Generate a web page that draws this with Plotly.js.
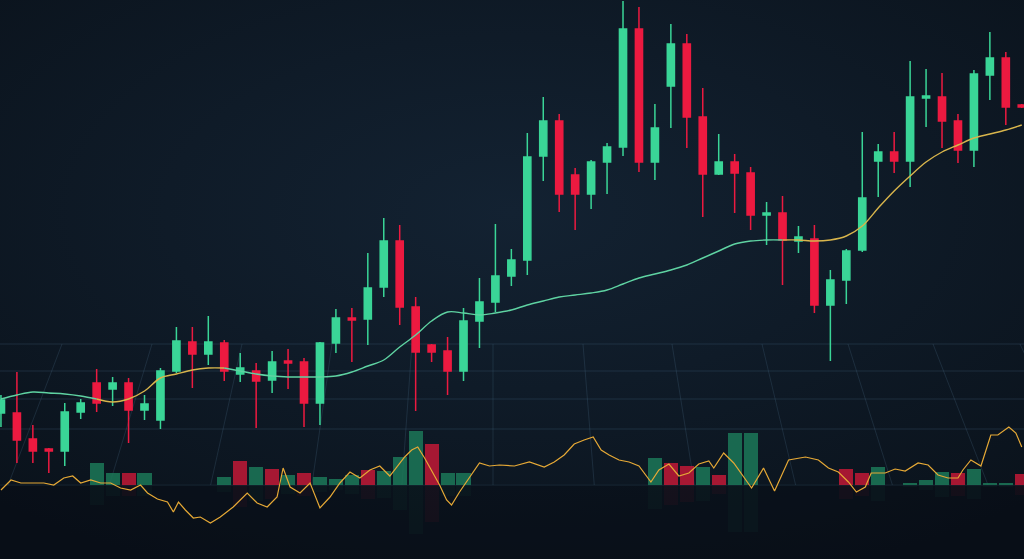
<!DOCTYPE html>
<html>
<head>
<meta charset="utf-8">
<script src="https://cdn.plot.ly/plotly-3.0.1.min.js"></script>
<style>
html,body{margin:0;padding:0;width:1024px;height:559px;overflow:hidden;
background:radial-gradient(ellipse 75% 70% at 50% 38%, #132232 0%, #0f1b28 45%, #0a121b 100%);}
#chart{width:1024px;height:559px;}
</style>
</head>
<body>
<div id="chart"></div>
<script>
// ---- data ----
const days = [0,1,2,3,4,5,6,7,8,9,10,11,12,13,14,15,16,17,18,19,20,21,22,23,24,25,26,27,28,29,30,31,32,33,34,35,36,37,38,39,40,41,42,43,44,45,46,47,48,49,50,51,52,53,54,55,56,57,58,59,60,61,62,63,64];
const openP  = [187,187,161,151,149,188,217,211,217,190,180,229,258,246,257,226,229,220,239,238,197,257,282,281,313,359,293,255,249,229,279,298,324,340,444,479,425,406,438,453,571,438,514,556,483,426,438,427,385,387,359,361,295,320,350,439,448,439,502,503,479,450,525,542,495];
const highP  = [205,228,175,152,197,201,231,223,222,205,232,273,273,284,260,247,237,249,251,242,258,291,292,347,382,375,303,256,263,292,322,376,351,467,503,486,432,440,457,599,593,496,576,566,512,466,446,433,398,404,374,375,330,351,468,456,468,539,531,527,486,530,568,548,496];
const lowP   = [173,137,137,127,134,181,188,194,157,180,171,227,212,235,219,218,172,207,211,173,175,247,238,255,303,275,189,238,205,219,252,288,314,325,419,388,370,391,406,444,428,420,472,452,383,425,387,370,355,315,347,287,239,296,348,403,427,413,473,452,437,433,500,475,492];
const closeP = [200,160,149,149,188,197,197,217,190,196,229,259,246,258,229,232,219,238,237,197,257,282,280,312,359,293,248,248,229,279,298,324,340,443,479,406,406,438,453,571,438,472,556,483,426,438,427,385,387,360,363,295,320,349,402,448,439,503,504,479,450,526,542,493,493];
const maLine = [201,205,208,207,206,204,201,198,201,209,222,226,230,232,232,229,226,224,223,223,223,224,228,234,240,253,265,279,288,287,285,287,290,295,299,303,305,307,310,316,322,326,330,335,342,349,356,359,360,360,360,359,360,364,374,392,409,424,438,448,455,462,466,470,475];
const volume = [0,0,0,0,0,0,220,120,120,120,0,0,0,0,80,240,180,160,100,120,80,60,100,150,140,280,540,410,120,120,0,0,0,0,0,0,0,0,0,0,0,270,220,190,180,100,520,520,0,0,0,0,0,160,120,180,0,20,50,130,120,160,20,20,110];
const volDir = [1,1,1,1,1,1,1,1,-1,1,1,1,1,1,1,-1,1,-1,1,-1,1,1,1,-1,1,1,1,-1,1,1,1,1,1,1,1,1,1,1,1,1,1,1,-1,-1,1,-1,1,1,1,1,1,1,1,-1,-1,1,1,1,1,1,-1,1,1,1,-1];
const oscT = [0,0.63,1.25,2.69,3.31,3.94,4.5,5,5.63,6.25,6.88,7.5,8.13,8.75,9.19,9.81,10.44,10.81,11.13,11.56,12.06,12.5,13.13,13.75,14.56,15.44,16.06,16.69,17.31,17.69,18.13,18.75,19.38,20,20.63,21.25,21.88,22.5,23.13,23.75,24.38,24.88,25.31,25.75,26.13,26.56,27,27.5,27.94,28.25,28.75,29.38,30,30.63,31.25,32.19,33.13,34.06,34.69,35.31,35.94,36.56,37.13,37.63,38.13,38.75,39.38,40,40.75,41.25,41.88,42.5,43.13,43.75,44.38,44.69,45.31,45.94,47.06,47.81,48.5,49.38,50.44,51.25,51.88,52.5,53.13,53.63,54.19,54.56,55.44,56.06,56.69,57.5,58.13,58.75,59.38,60,60.31,60.81,61.44,62.06,62.5,63.19,63.63,64];
const oscV = [50,60,57,57,55,62,64,57,60,57,57,52,50,55,47,41,38,28,38,30,22,23,17,23,33,47,37,33,43,72,53,47,57,32,43,57,68,62,70,74,64,74,83,90,93,82,70,55,40,35,48,62,77,74,75,74,78,73,78,85,96,100,103,90,85,80,78,74,58,70,76,64,67,76,79,72,87,77,52,72,49,80,83,80,72,68,58,48,53,67,67,71,69,77,75,65,62,62,70,80,74,105,105,113,107,93];
const maSegments = [[0,6,'green'],[6,14,'yellow'],[14,49,'green'],[49,64,'yellow']];

// ---- styles ----
const UP = '#3ad597', DOWN = '#ec1a40';
const MA_COL = {green:'#5fd3a2', yellow:'#d8b54c'};

const traces = [];
traces.push({
  type:'candlestick', x:days, open:openP, high:highP, low:lowP, close:closeP,
  increasing:{line:{color:UP,width:1.5},fillcolor:UP},
  decreasing:{line:{color:DOWN,width:1.5},fillcolor:DOWN},
  whiskerwidth:0, hoverinfo:'skip', showlegend:false, xaxis:'x', yaxis:'y'
});
maSegments.forEach(s=>{
  traces.push({type:'scatter',mode:'lines',x:days.slice(s[0],s[1]+1),y:maLine.slice(s[0],s[1]+1),
    line:{color:MA_COL[s[2]],width:1.4,shape:'spline',smoothing:1},hoverinfo:'skip',showlegend:false,xaxis:'x',yaxis:'y'});
});
const volCols = volDir.map(d=>d>0?'rgba(28,120,88,0.85)':'rgba(200,25,55,0.82)');
traces.push({type:'bar',x:days,y:volume,marker:{color:volCols,line:{width:0}},width:0.88,
  hoverinfo:'skip',showlegend:false,xaxis:'x',yaxis:'y2'});
traces.push({type:'bar',x:days,y:volume.map(v=>-v*0.9),marker:{color:volCols,line:{width:0}},width:0.88,opacity:0.07,
  hoverinfo:'skip',showlegend:false,xaxis:'x',yaxis:'y2'});
traces.push({type:'scatter',mode:'lines',x:oscT,y:oscV,line:{color:'#e6a936',width:1.2},
  hoverinfo:'skip',showlegend:false,xaxis:'x',yaxis:'y3'});

// perspective grid (decoration)
const H = 559;
const py = p => 1 - p/H;
const shapes = [];
[344,371,399,429].forEach(p=>shapes.push({type:'line',xref:'paper',yref:'paper',x0:0,x1:1,y0:py(p),y1:py(p),
  line:{color:'rgba(70,100,125,0.30)',width:1},layer:'below'}));
shapes.push({type:'line',xref:'paper',yref:'paper',x0:0,x1:1,y0:py(485),y1:py(485),line:{color:'rgba(70,100,125,0.18)',width:1},layer:'below'});
[62,152,242,332,412,493,583,672,762,848,933,1020].forEach(t=>{
  const b = 493 + (t-493)*1.125;
  shapes.push({type:'line',xref:'paper',yref:'paper',x0:t/1024,x1:b/1024,y0:py(344),y1:py(485),
    line:{color:'rgba(70,100,125,0.28)',width:1},layer:'below'});
});
shapes.push({type:'rect',xref:'paper',yref:'paper',x0:0,x1:1,y0:0,y1:py(486),fillcolor:'rgba(5,10,16,0.35)',line:{width:0},layer:'below'});

const ax = {visible:false,showgrid:false,zeroline:false,fixedrange:true};
const layout = {
  width:1024,height:559,margin:{l:0,r:0,t:0,b:0,pad:0},
  paper_bgcolor:'rgba(0,0,0,0)',plot_bgcolor:'rgba(0,0,0,0)',
  showlegend:false,hovermode:false,dragmode:false,boxgap:0.36,bargap:0,barmode:'overlay',
  xaxis:Object.assign({range:[-0.06,64.14],rangeslider:{visible:false}},ax),
  yaxis:Object.assign({range:[41,600]},ax),
  yaxis2:Object.assign({range:[-740,4850],overlaying:'y'},ax),
  yaxis3:Object.assign({range:[-19,540],overlaying:'y'},ax),
  shapes:shapes
};
Plotly.newPlot('chart',traces,layout,{staticPlot:true,displayModeBar:false});
</script>
</body>
</html>
